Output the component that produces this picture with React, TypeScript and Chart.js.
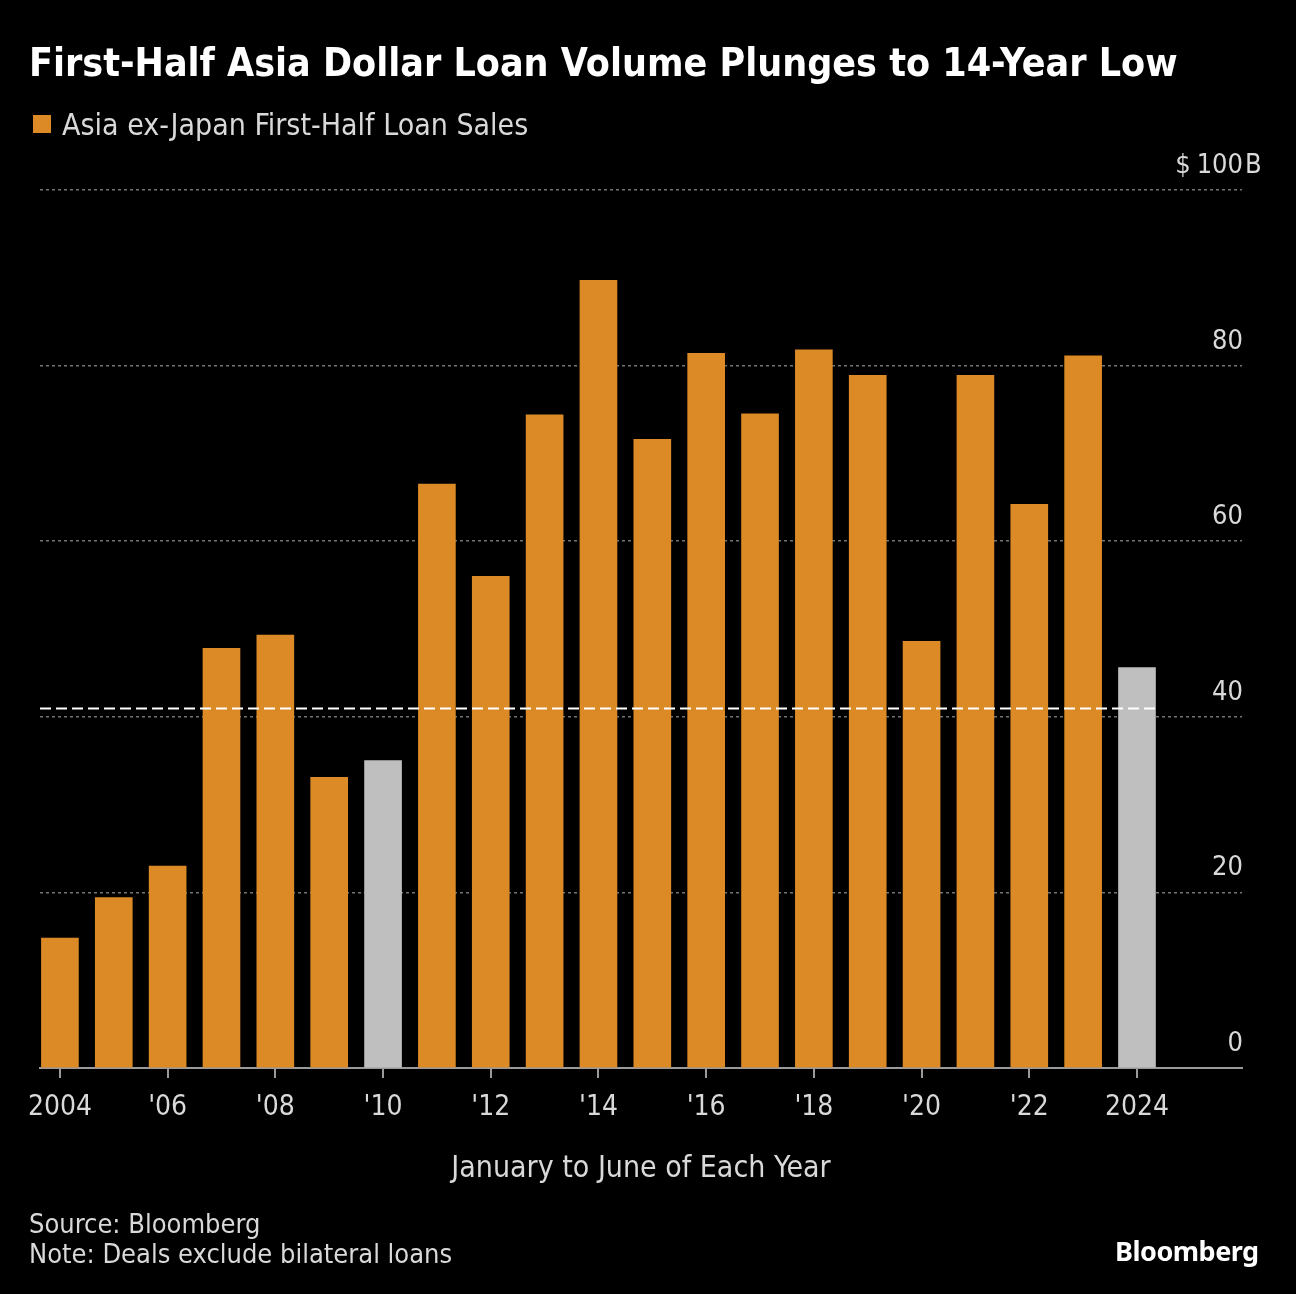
import React, { useEffect, useRef } from "react";
import { Chart, registerables } from "chart.js";

Chart.register(...registerables);

// ---- Data ----
const years = [2004, 2005, 2006, 2007, 2008, 2009, 2010, 2011, 2012, 2013, 2014, 2015, 2016, 2017, 2018, 2019, 2020, 2021, 2022, 2023, 2024];
const loanSales = [14.8, 19.4, 23.0, 47.8, 49.3, 33.1, 35.0, 66.5, 56.0, 74.4, 89.7, 71.6, 81.4, 74.5, 81.8, 78.9, 48.6, 78.9, 64.2, 81.1, 45.6];
const highlightYears = [2010, 2024];
const referenceLevel = 41;
const xTickYears = [2004, 2006, 2008, 2010, 2012, 2014, 2016, 2018, 2020, 2022, 2024];
const yTickValues = [0, 20, 40, 60, 80, 100];
const yUnitPrefix = "$";
const yUnitSuffix = "B";

const titleText = "First-Half Asia Dollar Loan Volume Plunges to 14-Year Low";
const legendText = "Asia ex-Japan First-Half Loan Sales";
const xAxisTitle = "January to June of Each Year";
const sourceText = "Source: Bloomberg";
const noteText = "Note: Deals exclude bilateral loans";

// ---- Styles ----
const FONT = '"DejaVu Sans Condensed", "Noto Sans", "DejaVu Sans", sans-serif';
const ORANGE = "#db8a25";
const GRAY = "#bfbfbf";
const TEXT = "#d9d9d9";

function formatYear(v: number): string {
  if (v === xTickYears[0] || v === xTickYears[xTickYears.length - 1]) return String(v);
  return "'" + String(v).slice(2);
}

export default function App() {
  const ref = useRef<HTMLCanvasElement>(null);

  useEffect(() => {
    document.body.style.margin = "0";
    document.body.style.background = "#000";
    const canvas = ref.current!;
    const barColors = years.map((y) => (highlightYears.includes(y) ? GRAY : ORANGE));

    const refLinePlugin = {
      id: "refLine",
      afterDatasetsDraw(chart: any) {
        const { ctx, chartArea, scales } = chart;
        const meta = chart.getDatasetMeta(0);
        const last: any = meta.data[meta.data.length - 1];
        const xEnd = last.x + last.width / 2;
        const y = Math.round(scales.y.getPixelForValue(referenceLevel)) + 0.5;
        ctx.save();
        ctx.strokeStyle = "#ffffff";
        ctx.lineWidth = 2;
        ctx.setLineDash([11, 5]);
        ctx.beginPath();
        ctx.moveTo(chartArea.left, y);
        ctx.lineTo(xEnd, y);
        ctx.stroke();
        ctx.restore();
      },
    };

    const yLabelPlugin = {
      id: "yLabels",
      afterDraw(chart: any) {
        const { ctx, chartArea, scales } = chart;
        ctx.save();
        ctx.font = `27px ${FONT}`;
        ctx.fillStyle = TEXT;
        ctx.textBaseline = "alphabetic";
        const xr = chartArea.right + 1;
        yTickValues.forEach((v, i) => {
          const y = scales.y.getPixelForValue(v) - 17;
          const s = String(v);
          ctx.textAlign = "right";
          ctx.fillText(s, xr, y);
          if (i === yTickValues.length - 1) {
            const w = ctx.measureText(s).width;
            ctx.textAlign = "left";
            ctx.fillText(yUnitSuffix, xr + 2, y);
            ctx.textAlign = "right";
            ctx.fillText(yUnitPrefix, xr - w - 6, y);
          }
        });
        ctx.restore();
      },
    };

    const chart = new Chart(canvas, {
      type: "bar",
      data: {
        datasets: [
          {
            data: years.map((y, i) => ({ x: y, y: loanSales[i] })),
            backgroundColor: barColors,
            borderWidth: 0,
            barThickness: 37,
          } as any,
        ],
      },
      options: {
        animation: false,
        responsive: false,
        maintainAspectRatio: false,
        layout: { padding: { left: 40, right: 54, top: 190, bottom: 107 } },
        plugins: { legend: { display: false }, tooltip: { enabled: false } },
        scales: {
          x: {
            type: "linear",
            min: 2003.63,
            max: 2025.95,
            offset: false,
            afterBuildTicks: (s: any) => {
              s.ticks = xTickYears.map((v) => ({ value: v }));
            },
            afterFit: (s: any) => {
              s.height = 119;
            },
            ticks: {
              callback: (v: any) => formatYear(Number(v)),
              color: TEXT,
              font: { size: 28, family: FONT },
              padding: 13,
              maxRotation: 0,
              autoSkip: false,
            },
            grid: {
              display: true,
              drawOnChartArea: false,
              drawTicks: true,
              tickLength: 10,
              color: "#9a9a9a",
              lineWidth: 2,
              offset: false,
            },
            border: { display: true, color: "#9a9a9a", width: 2 },
            title: {
              display: true,
              text: xAxisTitle,
              color: TEXT,
              font: { size: 30, family: FONT },
              padding: { top: 0, bottom: 0 },
            },
          } as any,
          y: {
            min: 0,
            max: 100,
            position: "right",
            afterBuildTicks: (s: any) => {
              s.ticks = yTickValues.map((v) => ({ value: v }));
            },
            afterFit: (s: any) => {
              s.width = 0;
            },
            ticks: { display: false },
            border: { display: false, dash: [3, 3] },
            grid: {
              drawTicks: false,
              lineWidth: 1.5,
              color: (ctx: any) => (ctx.tick && ctx.tick.value === 0 ? "rgba(0,0,0,0)" : "#747474"),
            },
          } as any,
        },
      },
      plugins: [refLinePlugin, yLabelPlugin],
    });
    return () => chart.destroy();
  }, []);

  const abs: React.CSSProperties = { position: "absolute", whiteSpace: "nowrap", lineHeight: 1, fontFamily: FONT };

  return (
    <div style={{ position: "relative", width: 1296, height: 1294, background: "#000", overflow: "hidden" }}>
      <canvas ref={ref} width={1296} height={1294} style={{ position: "absolute", left: 0, top: 0 }} />
      <div style={{ ...abs, left: 29, top: 43, fontSize: 39, fontWeight: 700, color: "#fff" }}>{titleText}</div>
      <div style={{ ...abs, left: 33, top: 115, width: 18, height: 18, background: ORANGE }} />
      <div style={{ ...abs, left: 62, top: 110, fontSize: 30, color: TEXT }}>{legendText}</div>
      <div style={{ ...abs, left: 29, top: 1210, fontSize: 27, color: TEXT }}>{sourceText}</div>
      <div style={{ ...abs, left: 29, top: 1240, fontSize: 27, color: TEXT }}>{noteText}</div>
      <div style={{ ...abs, left: 1115, top: 1237, fontSize: 27, fontWeight: 700, color: "#fff", fontFamily: '"Noto Sans", "Open Sans", sans-serif', letterSpacing: -0.5 }}>Bloomberg</div>
    </div>
  );
}
